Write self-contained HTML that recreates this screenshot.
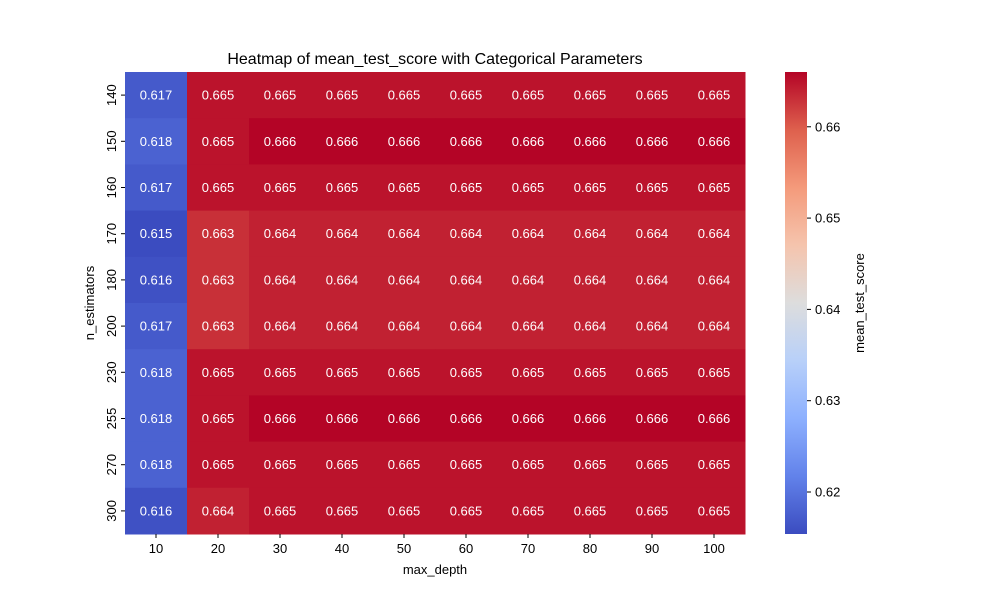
<!DOCTYPE html>
<html><head><meta charset="utf-8"><style>
body{margin:0;background:#fff;font-family:"Liberation Sans",sans-serif}
</style></head><body>
<svg id="chart" width="1000" height="600" xmlns="http://www.w3.org/2000/svg" font-family="Liberation Sans, sans-serif">
<text x="435" y="64" font-size="16" text-anchor="middle">Heatmap of mean_test_score with Categorical Parameters</text>
<g id="cells"></g><g id="xt"></g><g id="yt"></g>
<defs><linearGradient id="cbg" x1="0" y1="1" x2="0" y2="0" id2="x"></linearGradient></defs>
<rect x="785" y="72" width="22" height="462" fill="url(#cbg)"/>
<g id="cbt"></g>
<text x="435" y="574" font-size="13" text-anchor="middle">max_depth</text>
<text transform="translate(94,303) rotate(-90)" font-size="13" text-anchor="middle">n_estimators</text>
<text transform="translate(864,303) rotate(-90)" font-size="13" text-anchor="middle">mean_test_score</text>
</svg>
<script>
const xCats=[10,20,30,40,50,60,70,80,90,100];
const yCats=[140,150,160,170,180,200,230,255,270,300];
const rowVals=[
[0.617,0.665,0.665,0.665,0.665,0.665,0.665,0.665,0.665,0.665],
[0.618,0.665,0.666,0.666,0.666,0.666,0.666,0.666,0.666,0.666],
[0.617,0.665,0.665,0.665,0.665,0.665,0.665,0.665,0.665,0.665],
[0.615,0.663,0.664,0.664,0.664,0.664,0.664,0.664,0.664,0.664],
[0.616,0.663,0.664,0.664,0.664,0.664,0.664,0.664,0.664,0.664],
[0.617,0.663,0.664,0.664,0.664,0.664,0.664,0.664,0.664,0.664],
[0.618,0.665,0.665,0.665,0.665,0.665,0.665,0.665,0.665,0.665],
[0.618,0.665,0.666,0.666,0.666,0.666,0.666,0.666,0.666,0.666],
[0.618,0.665,0.665,0.665,0.665,0.665,0.665,0.665,0.665,0.665],
[0.616,0.664,0.665,0.665,0.665,0.665,0.665,0.665,0.665,0.665]];
const cbTicks=[0.62,0.63,0.64,0.65,0.66];
const vmin=0.6154,vmax=0.6660;
const X0=125,X1=745,Y0=72,Y1=534;
const stops=[[59,76,192],[98,130,234],[141,176,254],[184,208,249],[221,221,221],[245,196,173],[244,154,123],[222,96,77],[180,4,38]];
function cmap(t){t=Math.max(0,Math.min(1,t));const p=t*8,i=Math.min(7,Math.floor(p)),f=p-i;const a=stops[i],b=stops[i+1];return`rgb(${a.map((v,k)=>Math.round(v+(b[k]-v)*f)).join(',')})`;}
const NS="http://www.w3.org/2000/svg";
function mk(tag,attrs,parent){const e=document.createElementNS(NS,tag);for(const k in attrs)e.setAttribute(k,attrs[k]);parent.appendChild(e);return e;}
const cw=(X1-X0)/xCats.length,ch=(Y1-Y0)/yCats.length;
const xS=i=>X0+i*cw,yS=j=>Y0+j*ch,cbY=v=>Y1-(v-vmin)/(vmax-vmin)*(Y1-Y0);
const cells=document.getElementById('cells');
rowVals.forEach((row,j)=>row.forEach((v,i)=>{
 const r=mk('rect',{x:xS(i),y:yS(j),width:cw+0.5,height:ch+0.5,fill:cmap((v-vmin)/(vmax-vmin))},cells);
 
 
 const t=mk('text',{x:xS(i)+cw/2,y:yS(j)+ch/2+4.5,'font-size':13,fill:'#fff','text-anchor':'middle'},cells);
 t.textContent=v.toFixed(3);
 
 
}));
const xt=document.getElementById('xt');
xCats.forEach((c,i)=>{const cx=xS(i)+cw/2;mk('line',{x1:cx,x2:cx,y1:Y1,y2:Y1+4,stroke:'#000'},xt);
 const t=mk('text',{x:cx,y:Y1+19,'font-size':13,'text-anchor':'middle'},xt);t.textContent=c;
 
 });
const yt=document.getElementById('yt');
yCats.forEach((c,j)=>{const cy=yS(j)+ch/2;mk('line',{x1:X0-4,x2:X0,y1:cy,y2:cy,stroke:'#000'},yt);
 const t=mk('text',{transform:`translate(${X0-9},${cy}) rotate(-90)`,'font-size':13,'text-anchor':'middle'},yt);t.textContent=c;
 
 });
const g=document.getElementById('cbg');
for(let k=0;k<=8;k++)mk('stop',{offset:k/8,'stop-color':cmap(k/8)},g);
const cbt=document.getElementById('cbt');
cbTicks.forEach(v=>{const y=cbY(v);mk('line',{x1:807,x2:811,y1:y,y2:y,stroke:'#000'},cbt);
 const t=mk('text',{x:815,y:y+4.5,'font-size':13},cbt);t.textContent=v.toFixed(2);
 
 });
</script>
</body></html>
